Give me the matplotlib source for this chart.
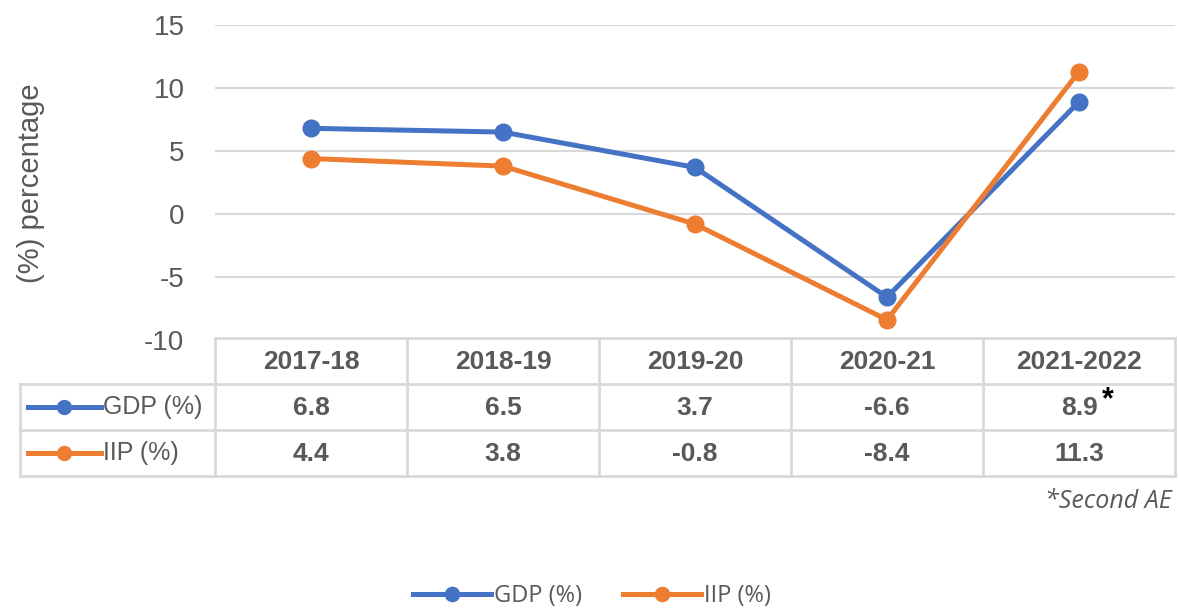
import matplotlib.pyplot as plt
from matplotlib.lines import Line2D

years = ["2017-18", "2018-19", "2019-20", "2020-21", "2021-2022"]
gdp = [6.8, 6.5, 3.7, -6.6, 8.9]
iip = [4.4, 3.8, -0.8, -8.4, 11.3]
series = [("GDP (%)", gdp, "#4472C4"), ("IIP (%)", iip, "#ED7D31")]
yticks = [-10, -5, 0, 5, 10, 15]

W, H = 1178, 612
grid_c = "#D9D9D9"
text_c = "#595959"


def fx(px):
    return px / W


def fy(py):
    return 1 - py / H


fig = plt.figure(figsize=(W / 100, H / 100), dpi=100)

# main line chart
ax = fig.add_axes([fx(215), fy(340), fx(1175 - 215), (340 - 25) / H])
xs = [i + 0.5 for i in range(len(years))]
for name, vals, col in series:
    ax.plot(xs, vals, color=col, lw=3.6, marker="o", ms=12, label=name, zorder=3)
ax.set_xlim(0, len(years))
ax.set_ylim(-10, 15)
ax.set_yticks(yticks)
ax.set_yticklabels([str(t) for t in yticks], fontsize=20, color=text_c,
                   family="Liberation Sans")
ax.set_xticks([])
ax.tick_params(axis="y", length=0, pad=22)
ax.grid(axis="y", color=grid_c, lw=1.5)
for s in ax.spines.values():
    s.set_visible(False)
ax.set_axisbelow(True)
fig.text(fx(31), fy(183), "(%) percentage", rotation=90, ha="center", va="center",
         fontsize=21, color=text_c, family="Liberation Sans")

# data table under the chart
left_units = -(215 - 20) / 192
tab = fig.add_axes([fx(20), fy(476), fx(1175 - 20), (476 - 338) / H])
tab.set_xlim(left_units, len(years))
tab.set_ylim(3, 0)
tab.axis("off")
lk = dict(color=grid_c, lw=2, clip_on=False, solid_capstyle="projecting")
tab.plot([0, len(years)], [0, 0], **lk)
for r in (1, 2, 3):
    tab.plot([left_units, len(years)], [r, r], **lk)
for c in range(len(years) + 1):
    tab.plot([c, c], [0, 3], **lk)
tab.plot([left_units, left_units], [1, 3], **lk)

for i, yr in enumerate(years):
    tab.text(i + 0.5, 0.52, yr, ha="center", va="center", fontsize=19,
             fontweight="bold", color=text_c, family="Liberation Sans")
for r, (name, vals, col) in enumerate(series, start=1):
    tab.add_line(Line2D([left_units + 0.04, left_units + 0.42], [r + 0.5, r + 0.5],
                        color=col, lw=3.6, clip_on=False))
    tab.plot([left_units + 0.23], [r + 0.5], "o", color=col, ms=10, clip_on=False)
    tab.text(left_units + 0.43, r + 0.5, name, ha="left", va="center", fontsize=18,
             color=text_c, family="Liberation Sans")
    for i, v in enumerate(vals):
        tab.text(i + 0.5, r + 0.52, f"{v:.1f}", ha="center", va="center", fontsize=19,
                 fontweight="bold", color=text_c, family="Liberation Sans")
tab.text(4.5 + 0.12, 1.35, "*", ha="left", va="center", fontsize=22,
         fontweight="bold", color="black", family="Liberation Sans")

fig.text(fx(1172), fy(502), "*Second AE", ha="right", va="center",
         style="italic", color=text_c, family="Open Sans", fontsize=18)

fig.legend(loc="center", bbox_to_anchor=(fx(592), fy(596)), ncol=2, frameon=False,
           handlelength=3.3, columnspacing=1.7, handletextpad=0.15, markerscale=0.85,
           prop={"family": "Open Sans", "size": 17}, labelcolor=text_c)

fig.savefig("out.png", dpi=100, facecolor="white")
